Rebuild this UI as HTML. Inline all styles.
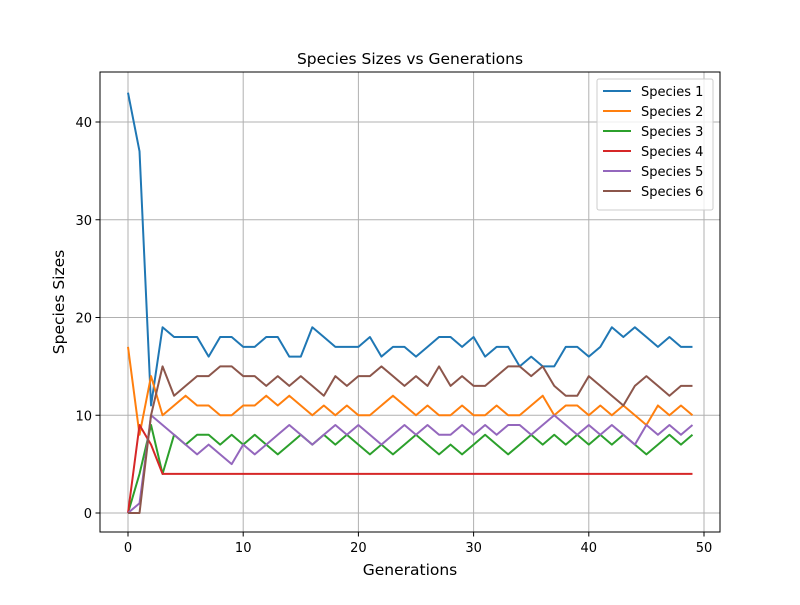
<!DOCTYPE html>
<html><head><meta charset="utf-8"><style>
body{margin:0;background:#fff;font-family:"Liberation Sans","DejaVu Sans",sans-serif}
svg text{font-family:"DejaVu Sans","Liberation Sans",sans-serif;fill:#000}
</style></head><body>
<svg id="chart" width="800" height="600" xmlns="http://www.w3.org/2000/svg">
<rect width="800" height="600" fill="#fff"/>
<g id="grid"></g><g id="series"></g><g id="axes"></g><g id="legend"></g>
</svg>
<script>
const s1=[43,37,11,19,18,18,18,16,18,18,17,17,18,18,16,16,19,18,17,17,17,18,16,17,17,16,17,18,18,17,18,16,17,17,15,16,15,15,17,17,16,17,19,18,19,18,17,18,17,17];
const s2=[17,8,14,10,11,12,11,11,10,10,11,11,12,11,12,11,10,11,10,11,10,10,11,12,11,10,11,10,10,11,10,10,11,10,10,11,12,10,11,11,10,11,10,11,10,9,11,10,11,10];
const s3=[0,4,9,4,8,7,8,8,7,8,7,8,7,6,7,8,7,8,7,8,7,6,7,6,7,8,7,6,7,6,7,8,7,6,7,8,7,8,7,8,7,8,7,8,7,6,7,8,7,8];
const s4=[0,9,7,4,4,4,4,4,4,4,4,4,4,4,4,4,4,4,4,4,4,4,4,4,4,4,4,4,4,4,4,4,4,4,4,4,4,4,4,4,4,4,4,4,4,4,4,4,4,4];
const s5=[0,1,10,9,8,7,6,7,6,5,7,6,7,8,9,8,7,8,9,8,9,8,7,8,9,8,9,8,8,9,8,9,8,9,9,8,9,10,9,8,9,8,9,8,7,9,8,9,8,9];
const s6=[0,0,10,15,12,13,14,14,15,15,14,14,13,14,13,14,13,12,14,13,14,14,15,14,13,14,13,15,13,14,13,13,14,15,15,14,15,13,12,12,14,13,12,11,13,14,13,12,13,13];
const seriesNames=["Species 1","Species 2","Species 3","Species 4","Species 5","Species 6"];
const xTicks=[0,10,20,30,40,50];
const yTicks=[0,10,20,30,40];
const allSeries=[s1,s2,s3,s4,s5,s6];
const colors=["#1f77b4","#ff7f0e","#2ca02c","#d62728","#9467bd","#8c564b"];
const L=100,R=720,T=72,B=532;
const X=v=>128+v*11.52;
const Y=v=>513-v*9.775;
const NS="http://www.w3.org/2000/svg";
function mk(tag,attrs,parent,text){const e=document.createElementNS(NS,tag);for(const k in attrs)e.setAttribute(k,attrs[k]);if(text!==undefined)e.textContent=text;parent.appendChild(e);return e;}
const grid=document.getElementById('grid'),ser=document.getElementById('series'),ax=document.getElementById('axes'),lg=document.getElementById('legend');
xTicks.forEach(t=>{const l=mk('line',{x1:X(t),x2:X(t),y1:T,y2:B,stroke:'#b0b0b0','stroke-width':1},grid);


mk('line',{x1:X(t),x2:X(t),y1:B,y2:B+4.5,stroke:'#000','stroke-width':1},ax);
const tx=mk('text',{x:X(t),y:B+20,'text-anchor':'middle','font-size':'13px'},ax,t);

});
yTicks.forEach(t=>{const l=mk('line',{x1:L,x2:R,y1:Y(t),y2:Y(t),stroke:'#b0b0b0','stroke-width':1},grid);


mk('line',{x1:L-4.5,x2:L,y1:Y(t),y2:Y(t),stroke:'#000','stroke-width':1},ax);
const tx=mk('text',{x:L-8,y:Y(t)+5,'text-anchor':'end','font-size':'13px'},ax,t);

});
allSeries.forEach((d,i)=>{const p=mk('polyline',{points:d.map((v,j)=>X(j)+','+Y(v)).join(' '),fill:'none',stroke:colors[i],'stroke-width':2,'stroke-linejoin':'round'},ser);

});
const fr=mk('rect',{x:L,y:T,width:R-L,height:B-T,fill:'none',stroke:'#000','stroke-width':1},ax);


const ti=mk('text',{x:410,y:64,'text-anchor':'middle','font-size':'15.5px'},ax,'Species Sizes vs Generations');


const xt=mk('text',{x:410,y:575,'text-anchor':'middle','font-size':'15.5px'},ax,'Generations');


const yt=mk('text',{x:0,y:0,'text-anchor':'middle','font-size':'15.5px',transform:'translate(64,302) rotate(-90)'},ax,'Species Sizes');


const lb=mk('rect',{x:597,y:79,width:116,height:131,fill:'#fff','fill-opacity':0.8,stroke:'#ccc',rx:2},lg);


seriesNames.forEach((n,i)=>{const y=91+i*20;
const g=mk('g',{},lg);


mk('line',{x1:603,x2:631,y1:y,y2:y,stroke:colors[i],'stroke-width':2},g);
mk('text',{x:641,y:y+5,'font-size':'13px'},g,n);});
</script>
</body></html>
